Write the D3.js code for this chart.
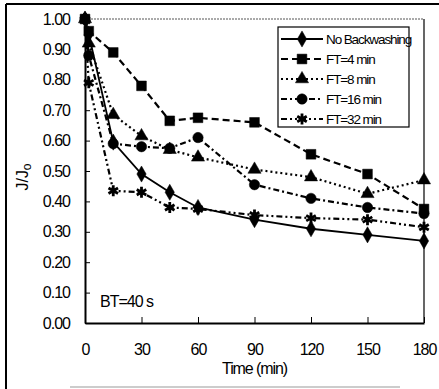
<!DOCTYPE html>
<html>
<head>
<meta charset="utf-8">
<script src="https://cdn.jsdelivr.net/npm/d3@7"></script>
<style>
  body { margin: 0; background: #fff; }
  svg { display: block; }
  .axis text { font-family: "Liberation Sans", Arial, sans-serif; font-size: 16px; fill: #000; letter-spacing: -1px; }
  .axis path, .axis line { stroke: #000; }
  .legend text { font-family: "Liberation Sans", Arial, sans-serif; font-size: 13.5px; letter-spacing: -1.1px; }
</style>
</head>
<body>
<svg></svg>
<script>
var width = 439,
  height = 389;

// data
var times = [0, 2, 15, 30, 45, 60, 90, 120, 150, 180];
var noBackwashing = [1.00, 0.95, 0.595, 0.49, 0.43, 0.38, 0.34, 0.31, 0.29, 0.27];
var ft4 = [1.00, 0.96, 0.89, 0.78, 0.665, 0.675, 0.66, 0.555, 0.49, 0.375];
var ft8 = [1.00, 0.92, 0.685, 0.615, 0.57, 0.545, 0.505, 0.48, 0.425, 0.47];
var ft16 = [1.00, 0.88, 0.59, 0.58, 0.575, 0.61, 0.455, 0.41, 0.38, 0.36];
var ft32 = [1.00, 0.79, 0.435, 0.43, 0.38, 0.375, 0.355, 0.345, 0.34, 0.315];
var seriesNames = ["No Backwashing", "FT=4 min", "FT=8 min", "FT=16 min", "FT=32 min"];
var xTicks = [0, 30, 60, 90, 120, 150, 180];
var yTicks = [0, 0.1, 0.2, 0.3, 0.4, 0.5, 0.6, 0.7, 0.8, 0.9, 1.0];

var series = [
  { name: seriesNames[0], values: noBackwashing, dash: null, symbol: d3.symbolDiamond, size: 75, filled: true },
  { name: seriesNames[1], values: ft4, dash: "7,4", symbol: d3.symbolSquare, size: 95, filled: true },
  { name: seriesNames[2], values: ft8, dash: "2,3", symbol: d3.symbolTriangle, size: 75, filled: true },
  { name: seriesNames[3], values: ft16, dash: "6,3,2,3", symbol: d3.symbolCircle, size: 85, filled: true },
  { name: seriesNames[4], values: ft32, dash: "6,3,2,3,2,3", symbol: d3.symbolAsterisk, size: 85, filled: false }
];

var svg = d3.select("svg")
  .attr("width", width)
  .attr("height", height);

// outer frame
svg.append("line").attr("x1", 6).attr("y1", 4).attr("x2", 6).attr("y2", 389)
  .attr("stroke", "#000").attr("stroke-width", 2);
svg.append("line").attr("x1", 6).attr("y1", 4).attr("x2", 439).attr("y2", 4)
  .attr("stroke", "#000").attr("stroke-width", 2);
svg.append("line").attr("x1", 70).attr("y1", 387).attr("x2", 400).attr("y2", 387)
  .attr("stroke", "#999").attr("stroke-width", 1);

var x = d3.scaleLinear().domain([0, 180]).range([85, 424]);
var y = d3.scaleLinear().domain([0, 1]).range([323, 19]);

// plot box top and right
svg.append("line").attr("x1", x(0)).attr("y1", y(1)).attr("x2", x(180)).attr("y2", y(1))
  .attr("stroke", "#555").attr("stroke-width", 1).attr("stroke-dasharray", "2,1");
svg.append("line").attr("x1", x(180)).attr("y1", y(1)).attr("x2", x(180)).attr("y2", y(0))
  .attr("stroke", "#000").attr("stroke-width", 1.2);

svg.append("g")
  .attr("class", "axis")
  .attr("transform", "translate(0," + y(0) + ")")
  .call(d3.axisBottom(x).tickValues(xTicks).tickSizeInner(-6).tickSizeOuter(0).tickPadding(21))
  .call(function(g) { g.select(".domain").attr("stroke-width", 2); });

svg.append("g")
  .attr("class", "axis")
  .attr("transform", "translate(" + x(0) + ",0)")
  .call(d3.axisLeft(y).tickValues(yTicks).tickFormat(d3.format(".2f")).tickSizeInner(-5).tickSizeOuter(0).tickPadding(15))
  .call(function(g) { g.select(".domain").attr("stroke-width", 2); });

// axis titles
svg.append("text")
  .attr("x", (x(0) + x(180)) / 2)
  .attr("y", 374)
  .attr("text-anchor", "middle")
  .style("font-family", "Liberation Sans, Arial, sans-serif")
  .style("font-size", "16px")
  .style("letter-spacing", "-1.1px")
  .text("Time (min)");

var yTitle = svg.append("text")
  .attr("transform", "translate(28,177) rotate(-90)")
  .attr("text-anchor", "middle")
  .style("font-family", "Liberation Sans, Arial, sans-serif")
  .style("font-size", "16px");
yTitle.append("tspan").text("J/J");
yTitle.append("tspan").attr("dy", 3).style("font-size", "12px").text("o");

svg.append("text")
  .attr("x", 100)
  .attr("y", 307)
  .style("font-family", "Liberation Sans, Arial, sans-serif")
  .style("font-size", "16px")
  .style("letter-spacing", "-1px")
  .text("BT=40 s");

var line = d3.line()
  .x(function(d, i) { return x(times[i]); })
  .y(function(d) { return y(d); });

var symbolPath = function(s) {
  return d3.symbol().type(s.symbol).size(s.size)();
};

var groups = svg.append("g")
  .selectAll("g")
  .data(series)
  .enter().append("g");

groups.append("path")
  .attr("d", function(d) { return line(d.values); })
  .attr("fill", "none")
  .attr("stroke", "#000")
  .attr("stroke-width", function(d) { return d.dash ? 2.2 : 1.8; })
  .attr("stroke-dasharray", function(d) { return d.dash; });

groups.selectAll(".mark")
  .data(function(d) { return d.values.map(function(v, i) { return { s: d, t: times[i], v: v }; }); })
  .enter().append("path")
  .attr("class", "mark")
  .attr("transform", function(d) { return "translate(" + x(d.t) + "," + y(d.v) + ")"; })
  .attr("d", function(d) { return symbolPath(d.s); })
  .attr("fill", function(d) { return d.s.filled ? "#000" : "none"; })
  .attr("stroke", "#000")
  .attr("stroke-width", function(d) { return d.s.filled ? 0.5 : 2.8; });

// legend
var legend = svg.append("g").attr("class", "legend");
legend.append("rect")
  .attr("x", 278).attr("y", 27)
  .attr("width", 131).attr("height", 100)
  .attr("fill", "#fff")
  .attr("stroke", "#000")
  .attr("stroke-width", 1.2);

var rows = legend.selectAll(".row")
  .data(series)
  .enter().append("g")
  .attr("class", "row")
  .attr("transform", function(d, i) { return "translate(0," + (39 + i * 20) + ")"; });

rows.append("line")
  .attr("x1", 281).attr("x2", 323)
  .attr("stroke", "#000")
  .attr("stroke-width", function(d) { return d.dash ? 2.2 : 1.8; })
  .attr("stroke-dasharray", function(d) { return d.dash; });

rows.append("path")
  .attr("transform", "translate(302,0)")
  .attr("d", function(d) { return symbolPath(d); })
  .attr("fill", function(d) { return d.filled ? "#000" : "none"; })
  .attr("stroke", "#000")
  .attr("stroke-width", function(d) { return d.filled ? 0.5 : 2.8; });

rows.append("text")
  .attr("x", 326)
  .attr("y", 5)
  .text(function(d) { return d.name; });
</script>
</body>
</html>
